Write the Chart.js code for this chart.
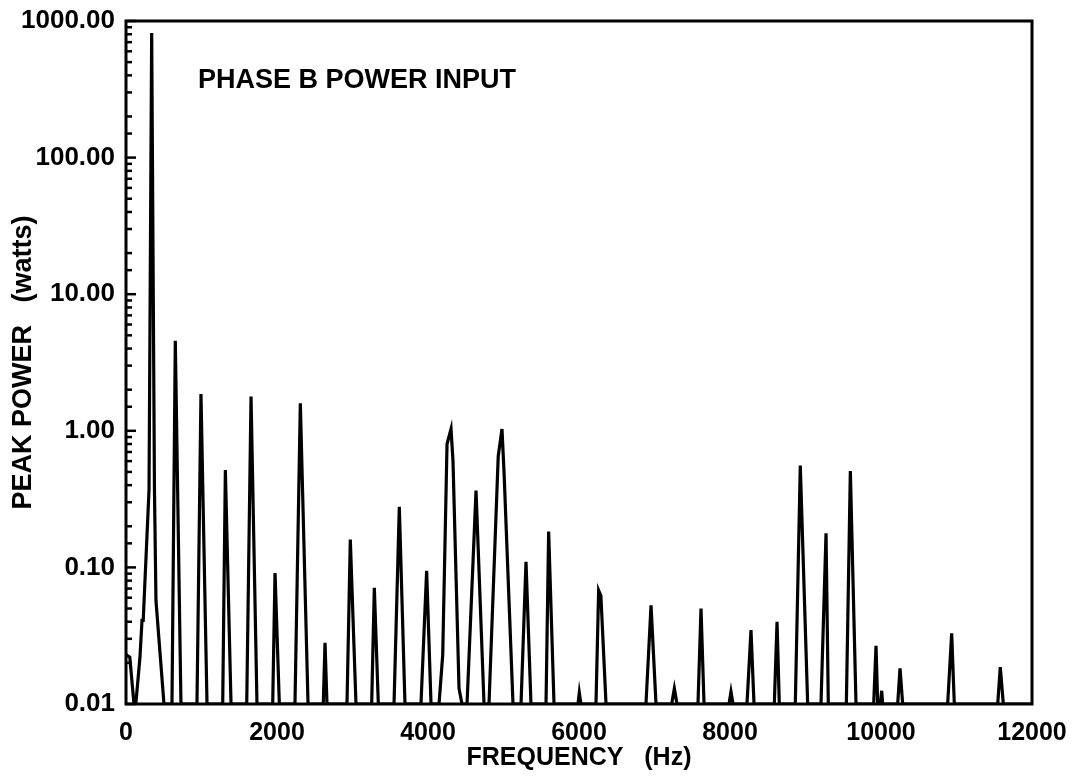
<!DOCTYPE html>
<html>
<head>
<meta charset="utf-8">
<script src="https://cdn.jsdelivr.net/npm/chart.js@4/dist/chart.umd.min.js"></script>
<style>
  body { margin: 0; background: #fff; }
  #wrap { width: 1077px; height: 781px; }
</style>
</head>
<body>
<div id="wrap"><canvas id="powerChart" width="1077" height="781"></canvas></div>
<script>
// Frequency (Hz) and peak power (watts), point by point
const freqHz = [
  0, 50, 106,
  130, 185, 212, 228, 305, 340, 377, 397, 503,
  609, 653, 728,
  940, 993, 1073,
  1281, 1316, 1391,
  1599, 1656, 1735,
  1943, 1974, 2031,
  2238, 2309, 2411,
  2613, 2636, 2662,
  2927, 2971, 3046,
  3254, 3289, 3342,
  3550, 3620, 3695,
  3907, 3982, 4040,
  4146, 4195, 4252, 4305, 4331, 4411, 4450,
  4517, 4636, 4742,
  4808, 4930, 4980, 5007, 5126,
  5232, 5298, 5364,
  5563, 5598, 5669,
  5987, 6004, 6026,
  6225, 6260, 6290, 6358,
  6887, 6954, 7020,
  7228, 7263, 7298,
  7576, 7616, 7656,
  7987, 8013, 8040,
  8225, 8278, 8318,
  8587, 8623, 8653,
  8865, 8931, 9029,
  9205, 9272, 9302,
  9541, 9594, 9669,
  9903, 9934, 9956,
  9991, 10009, 10022,
  10221, 10252, 10287,
  10883, 10936, 10971,
  11546, 11580, 11620,
  12000
];
const peakPower = [
  0.023, 0.022, 0.01,
  0.01, 0.022, 0.041, 0.041, 0.37, 817, 0.37, 0.057, 0.01,
  0.01, 4.57, 0.01,
  0.01, 1.86, 0.01,
  0.01, 0.516, 0.01,
  0.01, 1.78, 0.01,
  0.01, 0.091, 0.01,
  0.01, 1.59, 0.01,
  0.01, 0.028, 0.01,
  0.01, 0.16, 0.01,
  0.01, 0.071, 0.01,
  0.01, 0.278, 0.01,
  0.01, 0.0946, 0.01,
  0.01, 0.023, 0.8, 1.03, 0.6, 0.013, 0.01,
  0.01, 0.365, 0.01,
  0.01, 0.65, 1.03, 0.5, 0.01,
  0.01, 0.110, 0.01,
  0.01, 0.183, 0.01,
  0.01, 0.0121, 0.01,
  0.01, 0.068, 0.062, 0.01,
  0.01, 0.0528, 0.01,
  0.01, 0.013, 0.01,
  0.01, 0.050, 0.01,
  0.01, 0.0123, 0.01,
  0.01, 0.0348, 0.01,
  0.01, 0.040, 0.01,
  0.01, 0.556, 0.01,
  0.01, 0.178, 0.01,
  0.01, 0.508, 0.01,
  0.01, 0.0267, 0.01,
  0.01, 0.0125, 0.01,
  0.01, 0.0182, 0.01,
  0.01, 0.0329, 0.01,
  0.01, 0.0186, 0.01,
  0.01
];
const yLabels = [0.01, 0.1, 1, 10, 100, 1000];
const xTicks = [0, 2000, 4000, 6000, 8000, 10000, 12000];

const FONT = 'Liberation Sans, Arial, sans-serif';

// frame, inward y ticks and the caption inside the plot
const framePlugin = {
  id: 'frame',
  afterDraw(chart) {
    const ctx = chart.ctx;
    const a = chart.chartArea;
    const y = chart.scales.y;
    ctx.save();
    ctx.strokeStyle = '#000';
    ctx.lineWidth = 3;
    ctx.strokeRect(a.left, a.top, a.right - a.left, a.bottom - a.top);
    ctx.lineWidth = 2.5;
    y.ticks.forEach(t => {
      const py = y.getPixelForValue(t.value);
      const major = yLabels.some(v => Math.abs(v - t.value) < v * 1e-6);
      ctx.beginPath();
      ctx.moveTo(a.left, py);
      ctx.lineTo(a.left + (major ? 10 : 6), py);
      ctx.stroke();
    });
    ctx.fillStyle = '#000';
    ctx.font = 'bold 27px ' + FONT;
    ctx.textBaseline = 'middle';
    ctx.textAlign = 'left';
    ctx.fillText('PHASE B POWER INPUT', a.left + 72, a.top + 60);
    ctx.restore();
  }
};

new Chart(document.getElementById('powerChart').getContext('2d'), {
  type: 'line',
  data: {
    datasets: [{
      data: freqHz.map((f, i) => ({ x: f, y: peakPower[i] })),
      borderColor: '#000',
      borderWidth: 3.2,
      pointRadius: 0,
      tension: 0,
      fill: false,
      clip: 0
    }]
  },
  options: {
    responsive: false,
    animation: false,
    layout: { padding: { top: 21, right: 45, left: 0, bottom: 0 } },
    plugins: { legend: { display: false }, tooltip: { enabled: false } },
    scales: {
      x: {
        type: 'linear',
        min: 0,
        max: 12000,
        afterFit: s => { s.height = 77; s.paddingLeft = 0; s.paddingRight = 0; },
        afterBuildTicks: s => { s.ticks = xTicks.map(v => ({ value: v })); },
        grid: { display: false, drawTicks: false },
        border: { display: false },
        ticks: {
          color: '#000',
          padding: 14,
          maxRotation: 0,
          font: { family: FONT, size: 25, weight: 'bold' },
          callback: v => String(v)
        },
        title: {
          display: true,
          text: 'FREQUENCY   (Hz)',
          color: '#000',
          font: { family: FONT, size: 25, weight: 'bold' },
          padding: { top: 0, bottom: 8 }
        }
      },
      y: {
        type: 'logarithmic',
        min: 0.01,
        max: 1000,
        afterFit: s => { s.width = 126; s.paddingTop = 0; s.paddingBottom = 0; },
        grid: { display: false, drawTicks: false },
        border: { display: false },
        ticks: {
          color: '#000',
          padding: 11,
          autoSkip: false,
          font: { family: FONT, size: 26, weight: 'bold' },
          callback: v => {
            const hit = yLabels.find(l => Math.abs(l - v) < l * 1e-6);
            return hit === undefined ? '' : hit.toFixed(2);
          }
        },
        title: {
          display: true,
          text: 'PEAK POWER   (watts)',
          color: '#000',
          font: { family: FONT, size: 27, weight: 'bold' },
          padding: { top: 7, bottom: 0 }
        }
      }
    }
  },
  plugins: [framePlugin]
});
</script>
</body>
</html>
